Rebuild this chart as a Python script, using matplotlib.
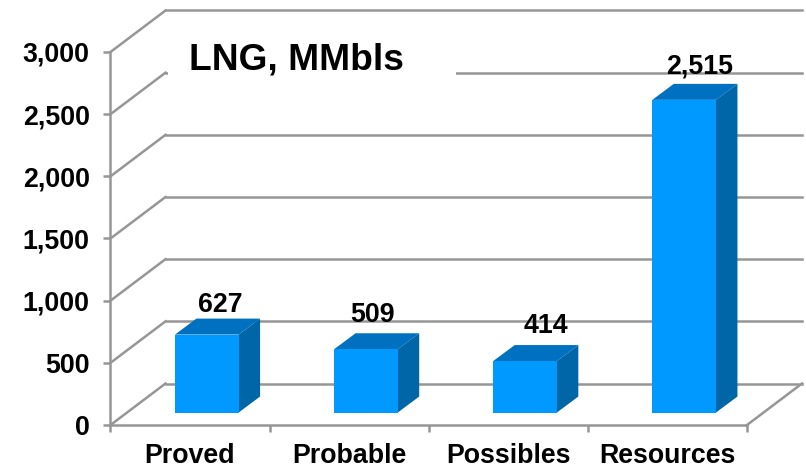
import matplotlib
matplotlib.use("Agg")
import matplotlib.pyplot as plt
from matplotlib.patches import Rectangle

categories = ["Proved", "Probable", "Possibles", "Resources"]
values = [627, 509, 414, 2515]
labels = ["627", "509", "414", "2,515"]
y_ticks = [0, 500, 1000, 1500, 2000, 2500, 3000]

W, H = 806, 468
plt.rcParams["font.family"] = ["Liberation Sans", "DejaVu Sans"]
plt.rcParams["font.weight"] = "bold"

GREY = "#969696"
FRONT = "#0099ff"
TOP = "#0070c0"
SIDE = "#0066a8"
LW = 1.8
FS = 19.3

# front plane of the fake 3d box, in pixels
x0, x1, y0, y3000 = 110.5, 747, 425, 52

fig = plt.figure(figsize=(W / 100, H / 100), dpi=100)
ax = fig.add_axes([x0 / W, 1 - y0 / H, (x1 - x0) / W, (y0 - y3000) / H])
ax.set_xlim(0, 4)
ax.set_ylim(0, 3000)

# depth of the floor and the bars, in data units
depth_x = 55 / ((x1 - x0) / 4)
depth_y = 41.5 / ((y0 - y3000) / 3000)
bar_w = 0.4
bar_d = 0.135
bar_off = 0.30

# back wall
for t in y_ticks:
    ax.plot([0, depth_x], [t, t + depth_y], color=GREY, lw=LW, clip_on=False, zorder=1)
    ax.plot([depth_x, 4 + depth_x], [t + depth_y, t + depth_y], color=GREY, lw=LW,
            clip_on=False, zorder=1)
ax.plot([4, 4 + depth_x], [0, depth_y], color=GREY, lw=LW, clip_on=False, zorder=1)

# title sits on a white box that hides the 2,500 gridline
ax.add_patch(Rectangle((168 / W, 1 - 100 / H), (456 - 168) / W, 60 / H, transform=fig.transFigure,
                       facecolor="white", edgecolor="none", zorder=2, clip_on=False))
fig.text(189 / W, 1 - 60 / H, "LNG, MMbls", fontsize=26.7, fontweight="bold", va="center", zorder=5)

# bars
for i, v in enumerate(values):
    left = i + 0.5 - bar_w / 2 + 0.105
    right = left + bar_w
    base = bar_off * depth_y
    top = base + v
    dx = bar_d
    dy = 16 / ((y0 - y3000) / 3000)
    ax.fill([left, right, right + dx, left + dx], [top, top, top + dy, top + dy],
            color=TOP, lw=0, clip_on=False, zorder=3)
    ax.fill([right, right + dx, right + dx, right], [base, base + dy, top + dy, top],
            color=SIDE, lw=0, clip_on=False, zorder=3)
    ax.bar(left, v, width=bar_w, bottom=base, align="edge", color=FRONT, lw=0, clip_on=False, zorder=3)

# data labels, each nudged off its bar by hand
label_dx = [13, 7, 21, 15]
label_dy = [30, 34, 35, 33]
for i, v in enumerate(values):
    ax.annotate(labels[i], (i + 0.5 + 0.105, bar_off * depth_y + v),
                xytext=(label_dx[i] / 1.389, label_dy[i] / 1.389),
                textcoords="offset points", ha="center", va="center", fontsize=FS,
                fontweight="bold", zorder=5, annotation_clip=False)

ax.patch.set_visible(False)
for s in ["top", "right"]:
    ax.spines[s].set_visible(False)
for s in ["left", "bottom"]:
    ax.spines[s].set_color(GREY)
    ax.spines[s].set_linewidth(LW)
    ax.spines[s].set_zorder(4)

ax.set_yticks(y_ticks)
ax.set_yticklabels([f"{t:,}" for t in y_ticks], fontsize=FS, fontweight="bold")
ax.set_xticks(range(5))
ax.set_xticklabels([])
ax.set_xticks([i + 0.5 for i in range(4)], categories, minor=True, fontsize=FS, fontweight="bold")
ax.tick_params(axis="both", which="major", color=GREY, width=LW, length=5)
ax.tick_params(axis="x", which="minor", length=0, pad=13)
ax.tick_params(axis="y", pad=10)

fig.savefig("out.png", dpi=100, facecolor="white")
